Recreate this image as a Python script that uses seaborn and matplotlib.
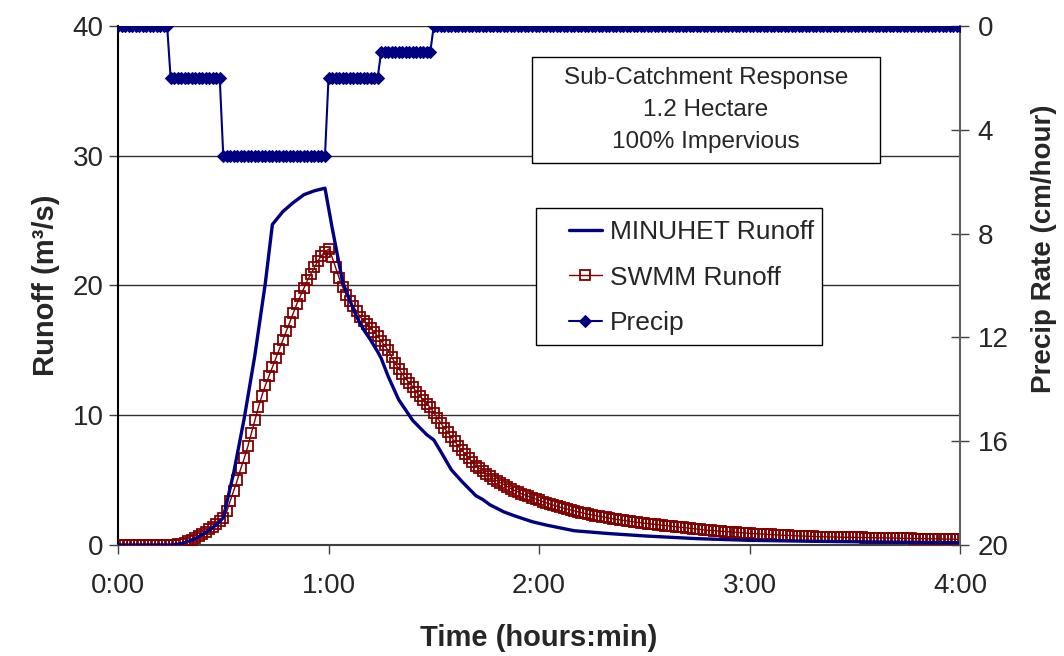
import numpy as np
import pandas as pd
import matplotlib
matplotlib.use("Agg")
import matplotlib.pyplot as plt
from matplotlib.patches import Rectangle
import seaborn as sns

# ---------------- data ----------------
# SWMM runoff (m3/s), one value per minute, 0..240 min
swmm_q = [
    0, 0, 0, 0, 0, 0, 0, 0, 0, 0,                                  # 0-9
    0, 0, 0, 0, 0, 0, 0.02, 0.05, 0.10, 0.18,                      # 10-19
    0.28, 0.40, 0.53, 0.68, 0.85, 1.02, 1.20, 1.40, 1.60, 1.85,    # 20-29
    2.10, 2.60, 3.40, 4.20, 5.00, 5.90, 6.70, 7.60, 8.60, 9.60,    # 30-39
    10.6, 11.5, 12.3, 13.0, 13.7, 14.4, 15.1, 15.8, 16.5, 17.2,    # 40-49
    17.9, 18.6, 19.2, 19.8, 20.4, 20.9, 21.4, 21.9, 22.3, 22.6,    # 50-59
    22.8, 22.2, 21.4, 20.6, 19.9, 19.3, 18.8, 18.4, 18.0, 17.6,    # 60-69
    17.3, 17.0, 16.7, 16.4, 16.1, 15.7, 15.4, 15.0, 14.5, 14.0,    # 70-79
    13.6, 13.2, 12.8, 12.5, 12.2, 11.8, 11.5, 11.2, 10.9, 10.6,    # 80-89
    10.2, 9.8, 9.4, 9.0, 8.7, 8.3, 8.0, 7.6, 7.3, 7.0,             # 90-99
    6.7, 6.4, 6.1, 5.9, 5.7, 5.5, 5.3, 5.1, 4.95, 4.8,             # 100-109
    4.65, 4.5, 4.35, 4.2, 4.1, 3.95, 3.85, 3.75, 3.65, 3.55,       # 110-119
    3.45, 3.35, 3.26, 3.17, 3.08, 3.00, 2.92, 2.84, 2.77, 2.70,    # 120-129
    2.63, 2.56, 2.50, 2.44, 2.38, 2.32, 2.27, 2.22, 2.17, 2.12,    # 130-139
    2.07, 2.02, 1.98, 1.94, 1.90, 1.86, 1.82, 1.78, 1.74, 1.71,    # 140-149
    1.68, 1.65, 1.62, 1.59, 1.56, 1.53, 1.50, 1.47, 1.44, 1.41,    # 150-159
    1.38, 1.35, 1.32, 1.29, 1.26, 1.23, 1.20, 1.17, 1.14, 1.12,    # 160-169
    1.10, 1.08, 1.06, 1.04, 1.02, 1.00, 0.98, 0.96, 0.94, 0.92,    # 170-179
    0.90, 0.88, 0.87, 0.85, 0.84, 0.82, 0.81, 0.79, 0.78, 0.76,    # 180-189
    0.75, 0.74, 0.73, 0.71, 0.70, 0.69, 0.68, 0.67, 0.66, 0.65,    # 190-199
    0.64, 0.63, 0.63, 0.62, 0.62, 0.61, 0.61, 0.60, 0.60, 0.59,    # 200-209
    0.59, 0.58, 0.58, 0.57, 0.57, 0.56, 0.56, 0.55, 0.55, 0.54,    # 210-219
    0.54, 0.53, 0.53, 0.52, 0.52, 0.51, 0.51, 0.50, 0.50, 0.49,    # 220-229
    0.49, 0.48, 0.48, 0.47, 0.47, 0.46, 0.46, 0.45, 0.45, 0.44,    # 230-239
    0.44,                                                          # 240
]

# MINUHET runoff (m3/s) at read-off times (minutes)
minuhet_t = [0, 15, 18, 20, 22, 24, 26, 28, 30, 33, 36, 39, 42, 44, 47, 50,
             53, 56, 59, 60, 61, 64, 66, 68, 70, 72, 74, 75, 77, 80, 84, 88,
             90, 92, 95, 98, 102, 104, 106, 110, 113, 118, 122, 130, 140,
             150, 165, 180, 200, 220, 240]
minuhet_q = [0, 0, 0.10, 0.27, 0.50, 0.80, 1.15, 1.55, 2.10, 5.6, 9.8, 14.6,
             20.2, 24.7, 25.7, 26.4, 27.0, 27.3, 27.5, 26.0, 24.5, 20.3, 18.9,
             17.6, 16.6, 15.8, 14.9, 14.4, 13.0, 11.2, 9.6, 8.5, 8.1, 7.2,
             5.8, 4.9, 3.8, 3.5, 3.1, 2.55, 2.25, 1.80, 1.54, 1.10, 0.88,
             0.70, 0.49, 0.36, 0.28, 0.22, 0.18]

# Precipitation steps: start minute and rate (cm/hour), ends at 240 min
precip_start = [0, 15, 30, 60, 75, 90]
precip_rate = [0, 2, 5, 2, 1, 0]
end_minute = 240

x_ticks = [0, 1, 2, 3, 4]
x_tick_labels = ["0:00", "1:00", "2:00", "3:00", "4:00"]
left_ticks = [0, 10, 20, 30, 40]
right_ticks = [0, 4, 8, 12, 16, 20]
box_text = "Sub-Catchment Response\n1.2 Hectare\n100% Impervious"

# ---------------- build frames ----------------
swmm_min = np.arange(len(swmm_q))
df_swmm = pd.DataFrame({"hours": swmm_min / 60.0, "q": swmm_q})
df_min = pd.DataFrame({"hours": np.array(minuhet_t) / 60.0, "q": minuhet_q})

durations = np.diff(precip_start + [end_minute + 1])
precip_series = np.repeat(precip_rate, durations)
precip_min = np.arange(len(precip_series))
df_p = pd.DataFrame({"hours": precip_min / 60.0, "p": precip_series})

# ---------------- plot ----------------
sns.set_theme(style="white")
plt.rcParams["font.family"] = ["Liberation Sans", "DejaVu Sans"]

navy = "#000080"
dred = "#800000"
TICK_FS = 20
LAB_FS = 21

fig = plt.figure(figsize=(10.64, 6.56), dpi=100)
ax = fig.add_axes([0.1109, 0.1692, 0.7914, 0.7912])

for y in [10, 20, 30, 40]:
    ax.axhline(y, color="#303030", lw=1.0, zorder=0)

sns.lineplot(data=df_swmm, x="hours", y="q", ax=ax, color=dred, lw=1.0,
             marker="s", markersize=7, markerfacecolor="none",
             markeredgecolor=dred, markeredgewidth=1.3, label="SWMM Runoff",
             legend=False, zorder=3)
sns.lineplot(data=df_min, x="hours", y="q", ax=ax, color=navy, lw=2.4,
             label="MINUHET Runoff", legend=False, zorder=4)

ax.set_xlim(0, 4)
ax.set_ylim(0, 40)
ax.set_xticks(x_ticks)
ax.set_xticklabels(x_tick_labels)
ax.set_yticks(left_ticks)
ax.tick_params(axis="both", labelsize=TICK_FS, direction="out", length=6.5,
               width=1, color="#404040", left=True, bottom=True)
ax.tick_params(axis="x", pad=14)
ax.tick_params(axis="y", pad=4)
ax.set_xlabel("Time (hours:min)", fontsize=LAB_FS, fontweight="bold",
              labelpad=18)
ax.set_ylabel("Runoff (m³/s)", fontsize=LAB_FS, fontweight="bold",
              labelpad=9)

ax.spines["top"].set_visible(False)
ax.spines["left"].set_color("black")
ax.spines["left"].set_linewidth(1.5)
ax.spines["bottom"].set_color("#404040")
ax.spines["bottom"].set_linewidth(1.5)
ax.spines["right"].set_visible(False)

ax2 = ax.twinx()
sns.lineplot(data=df_p, x="hours", y="p", ax=ax2, color=navy, lw=1.5,
             marker="D", markersize=6, markeredgecolor=navy,
             markerfacecolor=navy, label="Precip", legend=False, zorder=5)
ax2.set_ylim(20, 0)
ax2.set_xlim(0, 4)
ax2.set_yticks(right_ticks)
ax2.tick_params(axis="y", labelsize=TICK_FS, direction="inout", length=13,
                width=1, color="#404040", right=True, pad=6)
ax2.set_ylabel("Precip Rate (cm/hour)", fontsize=20, fontweight="bold",
               va="center")
ax2.yaxis.set_label_coords(1.1, 0.57)
for side in ["top", "left", "bottom"]:
    ax2.spines[side].set_visible(False)
ax2.spines["right"].set_color("#606060")
ax2.spines["right"].set_linewidth(1.5)

# legend frame (white box) and legend entries
ax2.add_patch(Rectangle((0.4964, 0.385), 0.3396, 0.264,
                        transform=ax.transAxes, facecolor="white",
                        edgecolor="black", lw=1.0, zorder=6))
h1, l1 = ax.get_legend_handles_labels()
h2, l2 = ax2.get_legend_handles_labels()
handles = [h1[1], h1[0], h2[0]]
labels = [l1[1], l1[0], l2[0]]
leg = ax2.legend(handles, labels, loc="upper left",
                 bbox_to_anchor=(0.5356, 0.626), bbox_transform=ax.transAxes,
                 fontsize=19, frameon=False, borderpad=0, borderaxespad=0,
                 handlelength=1.25, handletextpad=0.3, labelspacing=0.82)
leg.set_zorder(7)

# annotation box
ax2.add_patch(Rectangle((0.4917, 0.736), 0.4133, 0.204,
                        transform=ax.transAxes, facecolor="white",
                        edgecolor="black", lw=1.0, zorder=9))
ax2.text(0.698, 0.838, box_text, transform=ax.transAxes, ha="center",
         va="center", fontsize=17.5, linespacing=1.58, zorder=10)

fig.savefig("out.png", dpi=100)
